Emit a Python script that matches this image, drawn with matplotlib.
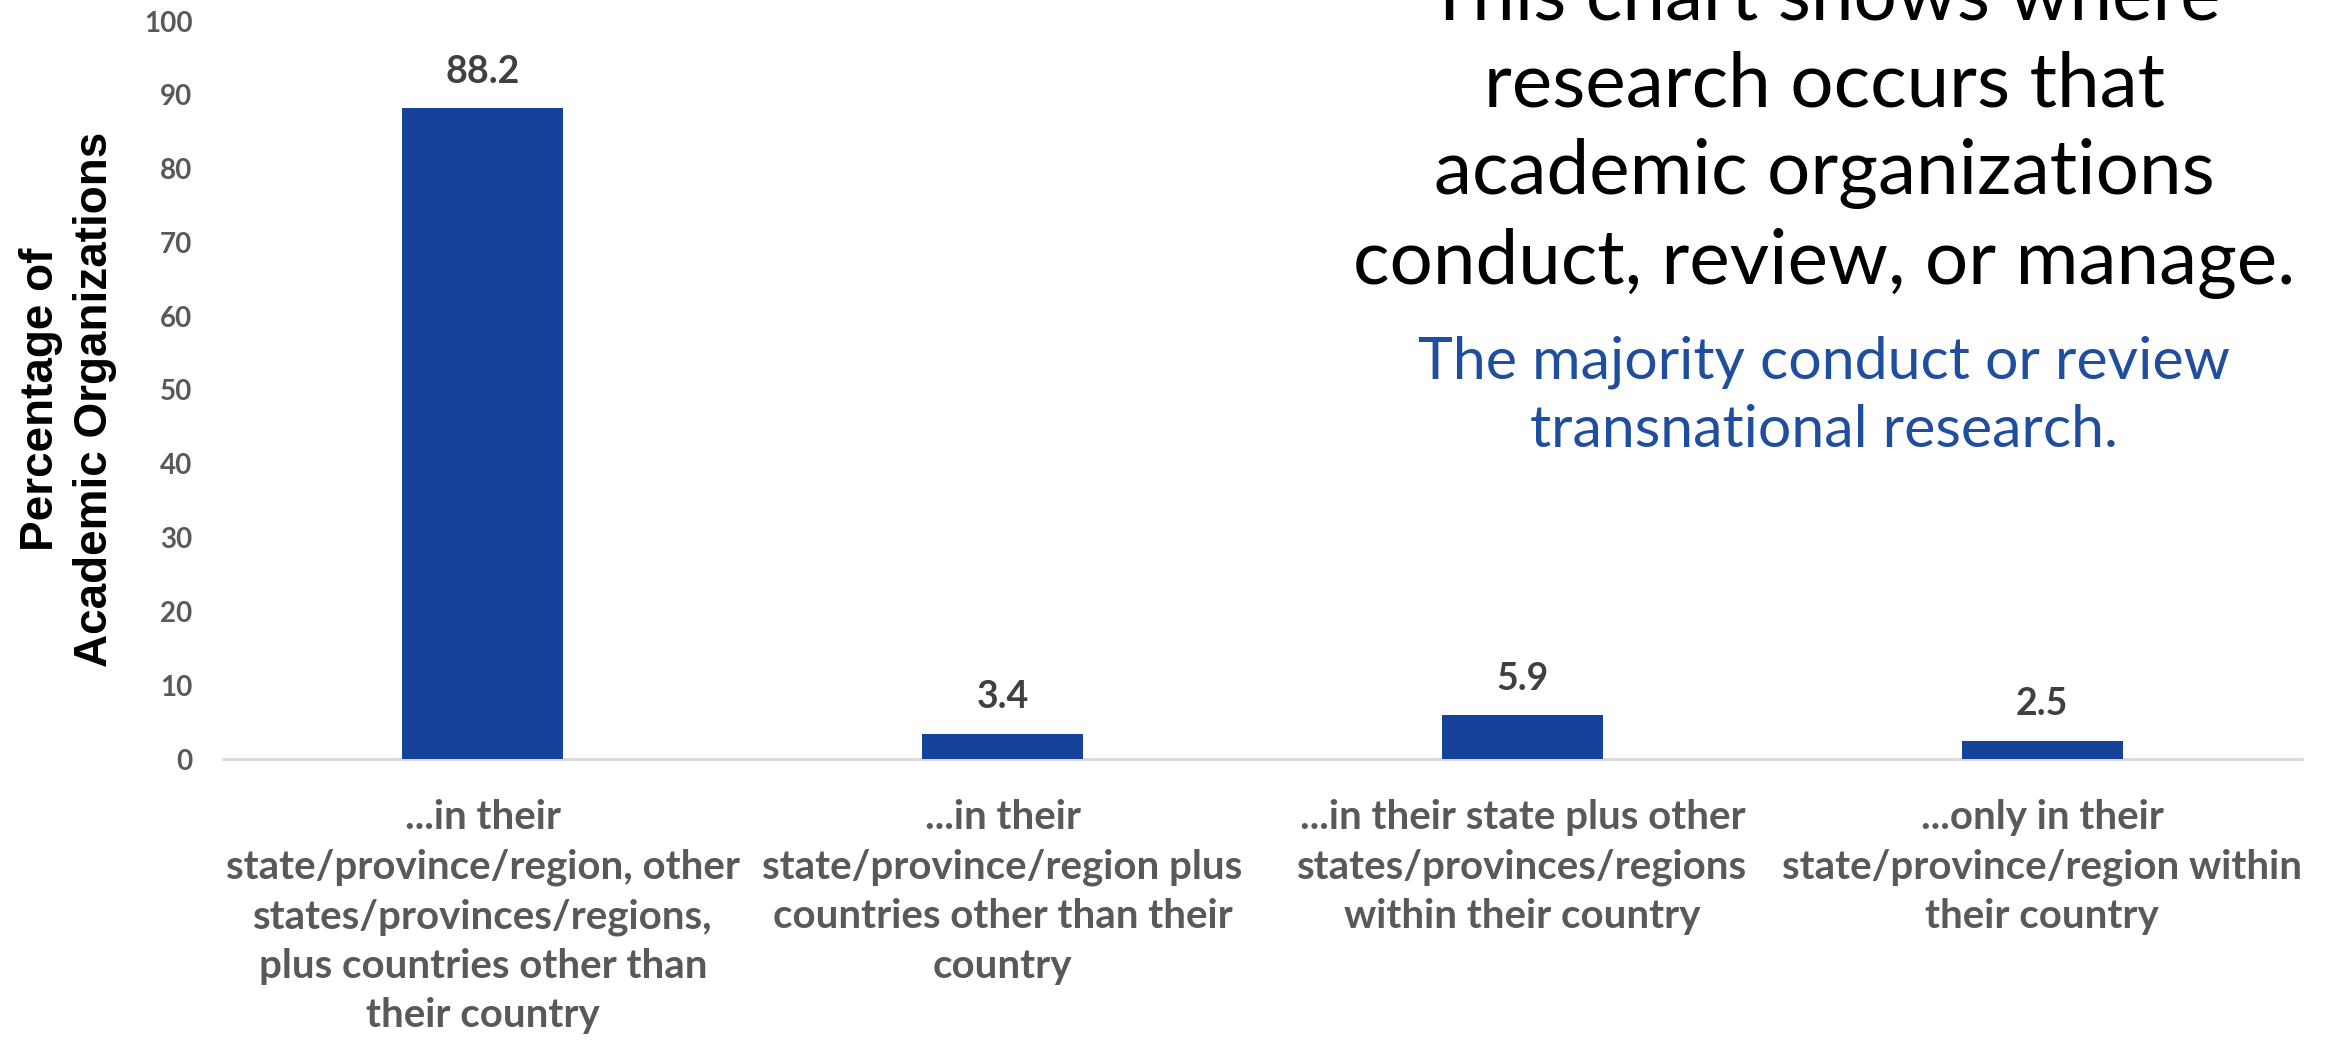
import matplotlib
matplotlib.use("Agg")
import matplotlib.pyplot as plt

categories = [
    "...in their\nstate/province/region, other\nstates/provinces/regions,\nplus countries other than\ntheir country",
    "...in their\nstate/province/region plus\ncountries other than their\ncountry",
    "...in their state plus other\nstates/provinces/regions\nwithin their country",
    "...only in their\nstate/province/region within\ntheir country",
]
values = [88.2, 3.4, 5.9, 2.5]
yticks = [0, 10, 20, 30, 40, 50, 60, 70, 80, 90, 100]
ylabel = "Percentage of\nAcademic Organizations"
title = "This chart shows where\nresearch occurs that\nacademic organizations\nconduct, review, or manage."
subtitle = "The majority conduct or review\ntransnational research."

W, H, DPI = 2329, 1040, 100
fig = plt.figure(figsize=(W / DPI, H / DPI), dpi=DPI)
ax = fig.add_axes([223 / W, 1 - 759 / H, (2302 - 223) / W, (759 - 21) / H])

BAR = "#15439A"
GRAY = "#595959"
DARK = "#404040"
BLUE = "#1F4E9E"
CAL = "Lato"

x = list(range(len(values)))
ax.bar(x, values, width=0.31, color=BAR, zorder=3)
ax.set_xlim(-0.5, len(values) - 0.5)
ax.set_ylim(0, 100)
ax.set_yticks(yticks)
ax.set_yticklabels([str(t) for t in yticks], fontfamily=CAL, fontweight="bold",
                   fontsize=20, color=GRAY)
ax.tick_params(axis="y", length=0, pad=22)
ax.set_xticks(x)
ax.set_xticklabels(categories, fontfamily=CAL, fontweight="bold", fontsize=29,
                   color=GRAY, linespacing=1.41)
ax.tick_params(axis="x", length=0, pad=29)
for s in ["top", "right", "left"]:
    ax.spines[s].set_visible(False)
ax.spines["bottom"].set_color("#D9D9D9")
ax.spines["bottom"].set_linewidth(2)

for xi, v in zip(x, values):
    ax.annotate(f"{v}", (xi, v), xytext=(0, 14), textcoords="offset points",
                ha="center", va="bottom", fontfamily=CAL, fontweight="bold",
                fontsize=27, color=DARK)

fig.text(68 / W, 1 - 399 / H, ylabel, rotation=90, ha="center", va="center",
         fontfamily="Liberation Sans", fontweight="bold", fontsize=33,
         color="black", linespacing=1.3)

fig.text(1824 / W, 1 - 131 / H, title, ha="center", va="center",
         fontfamily=CAL, fontsize=55, color="black", linespacing=1.33)
fig.text(1824 / W, 1 - 396 / H, subtitle, ha="center", va="center",
         fontfamily=CAL, fontsize=42.5, color=BLUE, linespacing=1.34)

fig.savefig("out.png", dpi=DPI)
